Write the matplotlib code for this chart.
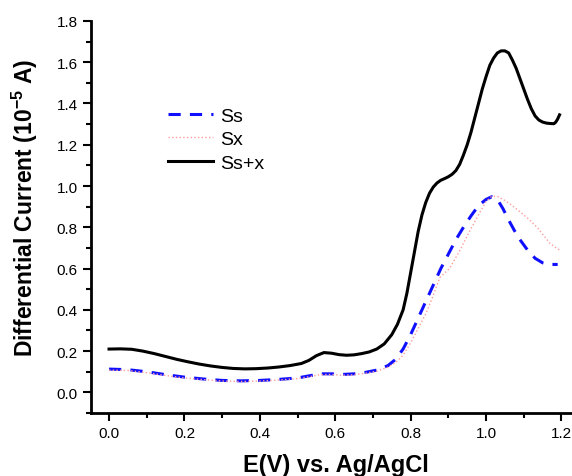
import matplotlib.pyplot as plt
from matplotlib.ticker import MultipleLocator

plt.rcParams['font.family'] = ['Liberation Sans', 'DejaVu Sans']
plt.rcParams['mathtext.fontset'] = 'custom'
plt.rcParams['mathtext.bf'] = 'Liberation Sans:bold'
plt.rcParams['mathtext.rm'] = 'Liberation Sans'

# potential (V) and differential current (1e-5 A)
e_ssx = [0.00, 0.03, 0.06, 0.09, 0.12, 0.15, 0.18, 0.21, 0.24, 0.27, 0.30, 0.33,
         0.36, 0.39, 0.42, 0.45, 0.48, 0.51, 0.53, 0.55, 0.57, 0.59, 0.61, 0.63,
         0.65, 0.67, 0.69, 0.71, 0.73, 0.75, 0.765, 0.78, 0.79, 0.80, 0.81, 0.82,
         0.83, 0.84, 0.85, 0.86, 0.87, 0.88, 0.89, 0.90, 0.91, 0.92, 0.93, 0.94,
         0.95, 0.96, 0.97, 0.98, 0.99, 1.00, 1.01, 1.02, 1.03, 1.04, 1.05, 1.06,
         1.07, 1.08, 1.09, 1.10, 1.11, 1.12, 1.13, 1.14, 1.15, 1.16, 1.17, 1.18,
         1.185, 1.19, 1.195]
i_ssx = [0.21, 0.211, 0.209, 0.20, 0.188, 0.174, 0.16, 0.148, 0.137, 0.128, 0.121, 0.116,
         0.114, 0.115, 0.118, 0.123, 0.13, 0.14, 0.155, 0.178, 0.193, 0.19, 0.183, 0.18,
         0.182, 0.188, 0.196, 0.21, 0.235, 0.28, 0.33, 0.40, 0.48, 0.58, 0.68, 0.78,
         0.86, 0.92, 0.965, 0.995, 1.015, 1.028, 1.036, 1.045, 1.057, 1.075, 1.105, 1.15,
         1.20, 1.26, 1.33, 1.40, 1.47, 1.53, 1.585, 1.62, 1.645, 1.655, 1.655, 1.645,
         1.61, 1.57, 1.52, 1.47, 1.42, 1.375, 1.34, 1.32, 1.31, 1.305, 1.303, 1.302,
         1.31, 1.325, 1.345]

e_ss = [0.00, 0.05, 0.10, 0.15, 0.20, 0.25, 0.30, 0.35, 0.40, 0.45, 0.50, 0.53,
        0.56, 0.59, 0.62, 0.65, 0.68, 0.71, 0.74, 0.76, 0.78, 0.80, 0.82, 0.84,
        0.86, 0.88, 0.90, 0.92, 0.94, 0.96, 0.98, 1.00, 1.015, 1.03, 1.045, 1.06,
        1.075, 1.09, 1.11, 1.13, 1.15, 1.17, 1.19]
i_ss = [0.113, 0.11, 0.10, 0.086, 0.074, 0.065, 0.058, 0.056, 0.058, 0.063, 0.07, 0.08,
        0.09, 0.09, 0.087, 0.09, 0.097, 0.108, 0.13, 0.16, 0.21, 0.28, 0.36, 0.44,
        0.52, 0.60, 0.67, 0.74, 0.80, 0.855, 0.905, 0.935, 0.948, 0.935, 0.89, 0.835,
        0.785, 0.74, 0.69, 0.65, 0.628, 0.62, 0.62]

e_sx = [0.00, 0.05, 0.10, 0.15, 0.20, 0.25, 0.30, 0.35, 0.40, 0.45, 0.50, 0.53,
        0.56, 0.59, 0.62, 0.65, 0.68, 0.71, 0.74, 0.76, 0.78, 0.80, 0.82, 0.84,
        0.86, 0.877, 0.903, 0.93, 0.956, 0.983, 1.00, 1.015, 1.03, 1.05, 1.07,
        1.09, 1.11, 1.137, 1.155, 1.168, 1.186, 1.195]
i_sx = [0.108, 0.106, 0.096, 0.082, 0.07, 0.062, 0.055, 0.053, 0.055, 0.06, 0.067, 0.076,
        0.086, 0.087, 0.083, 0.086, 0.093, 0.103, 0.122, 0.145, 0.18, 0.24, 0.31, 0.38,
        0.47, 0.556, 0.60, 0.686, 0.78, 0.87, 0.925, 0.95, 0.95, 0.93, 0.905,
        0.875, 0.845, 0.797, 0.755, 0.725, 0.70, 0.69]

fig = plt.figure(figsize=(5.72, 4.77), dpi=100)
ax = fig.add_axes([0.159, 0.132, 0.841, 0.822])

ax.plot(e_ss, i_ss, color='#1010ff', linestyle=(0, (4, 3)), linewidth=2.2, label='Ss')
ax.plot(e_sx, i_sx, color='#ff9c9c', linestyle=':', linewidth=1, label='Sx')
ax.plot(e_ssx, i_ssx, color='black', linewidth=2.2, label='Ss+x')

ax.set_xlim(-0.048, 1.228)
ax.set_ylim(-0.1, 1.8)
ax.xaxis.set_minor_locator(MultipleLocator(0.1))
ax.yaxis.set_minor_locator(MultipleLocator(0.1))
ax.set_xticks([0.0, 0.2, 0.4, 0.6, 0.8, 1.0, 1.2])
ax.set_yticks([0.0, 0.2, 0.4, 0.6, 0.8, 1.0, 1.2, 1.4, 1.6, 1.8])

for side in ['top', 'right']:
    ax.spines[side].set_visible(False)
for side in ['left', 'bottom']:
    ax.spines[side].set_linewidth(2)
ax.tick_params(which='major', direction='out', length=6, width=1.5, labelsize=11)
ax.tick_params(which='minor', direction='out', length=3.5, width=1.5)

ax.set_xlabel('E(V) vs. Ag/AgCl', fontsize=17, fontweight='bold', va='top')
ax.xaxis.set_label_coords(0.509, -0.102)
ax.set_ylabel('Differential Current (10$^{\\mathbf{-5}}$ A)', fontsize=16.5,
              fontweight='bold')
ax.yaxis.set_label_coords(-0.105, 0.527)

ax.legend(loc='upper left', bbox_to_anchor=(0.16, 0.78), frameon=False,
          fontsize=14, handlelength=2.3, handletextpad=0.4, labelspacing=0.3,
          borderpad=0, borderaxespad=0)

fig.savefig('out.png', dpi=100)
